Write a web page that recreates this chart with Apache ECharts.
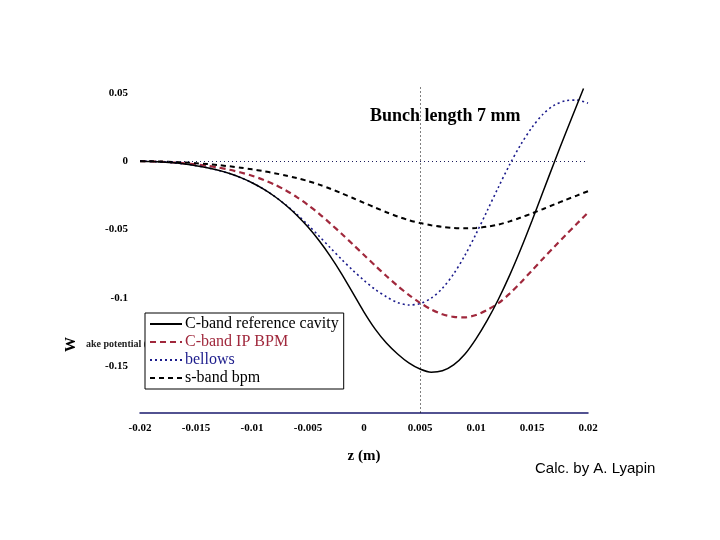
<!DOCTYPE html>
<html>
<head>
<meta charset="utf-8">
<script src="https://cdn.jsdelivr.net/npm/echarts@6/dist/echarts.min.js"></script>
<style>html,body{margin:0;padding:0;background:#fff;}#c{width:720px;height:540px;}</style>
</head>
<body>
<div id="c"></div>
<script>
// ---- data (z in m, wake in V/pC) ----
var seriesNames = ['C-band reference cavity', 'C-band IP BPM', 'bellows', 's-band bpm'];
var xTickValues = [-0.02, -0.015, -0.01, -0.005, 0, 0.005, 0.01, 0.015, 0.02];
var yTickValues = [-0.15, -0.1, -0.05, 0, 0.05];
var bunchMarkerZ = 0.005;

var zSamples = [-0.020, -0.019, -0.018, -0.017, -0.016, -0.015, -0.014, -0.013, -0.012, -0.011,
                -0.010, -0.009, -0.008, -0.007, -0.006, -0.005, -0.004, -0.003, -0.002, -0.001,
                 0.000,  0.001,  0.002,  0.003,  0.004,  0.005,  0.006,  0.007,  0.008,  0.009,
                 0.010,  0.011,  0.012,  0.013,  0.014,  0.015,  0.016,  0.017,  0.018,  0.019, 0.020];

var zCband = [-0.020, -0.019, -0.018, -0.017, -0.016, -0.015, -0.014, -0.013, -0.012, -0.011,
              -0.010, -0.009, -0.008, -0.007, -0.006, -0.005, -0.004, -0.003, -0.002, -0.001,
               0.000,  0.001,  0.002,  0.003,  0.004,  0.005,  0.006,  0.007,  0.008,  0.009,
               0.010,  0.011,  0.012,  0.013,  0.014,  0.015,  0.016,  0.017,  0.018,  0.019, 0.0196];
var wCband = [0, -0.0002, -0.0006, -0.0012, -0.0021, -0.0033, -0.0048, -0.0067, -0.0091, -0.0121,
              -0.0158, -0.0203, -0.0257, -0.0321, -0.0396, -0.0483, -0.0583, -0.0697, -0.0825, -0.0965,
              -0.1105, -0.1230, -0.1332, -0.1412, -0.1477, -0.1522, -0.1545, -0.1535, -0.1492, -0.1414,
              -0.1301, -0.1166, -0.1011, -0.0836, -0.0643, -0.0436, -0.0221, -0.0006, 0.0204, 0.0409, 0.0532];

var wIPBPM = [0, -0.0002, -0.0005, -0.0010, -0.0016, -0.0024, -0.0034, -0.0047, -0.0063, -0.0083,
              -0.0107, -0.0136, -0.0171, -0.0213, -0.0263, -0.0321, -0.0386, -0.0457, -0.0532, -0.0609,
              -0.0687, -0.0765, -0.0841, -0.0913, -0.0979, -0.1037, -0.1085, -0.1121, -0.1140, -0.1144,
              -0.1126, -0.1090, -0.1040, -0.0970, -0.0888, -0.0800, -0.0712, -0.0626, -0.0542, -0.0459, -0.0376];

var wBellows = [0, -0.0002, -0.0006, -0.0012, -0.0021, -0.0033, -0.0048, -0.0067, -0.0091, -0.0121,
                -0.0158, -0.0203, -0.0257, -0.0319, -0.0389, -0.0467, -0.0550, -0.0635, -0.0719, -0.0799,
                -0.0873, -0.0939, -0.0993, -0.1035, -0.1053, -0.1043, -0.1003, -0.0931, -0.0826, -0.0691,
                -0.0533, -0.0363, -0.0191, -0.0026, 0.0122, 0.0247, 0.0345, 0.0410, 0.0442, 0.0447, 0.0424];

var wSband = [0, -0.0001, -0.0003, -0.0006, -0.0010, -0.0015, -0.0021, -0.0029, -0.0038, -0.0048,
              -0.0060, -0.0073, -0.0088, -0.0105, -0.0124, -0.0146, -0.0172, -0.0202, -0.0235, -0.0270,
              -0.0305, -0.0340, -0.0374, -0.0405, -0.0432, -0.0453, -0.0469, -0.0481, -0.0489, -0.0492,
              -0.0489, -0.0480, -0.0464, -0.0441, -0.0413, -0.0382, -0.0350, -0.0317, -0.0284, -0.0252, -0.0220];

function pairs(xs, ys) { return xs.map(function (x, i) { return [x, ys[i]]; }); }

var serif = 'Liberation Serif';
var chart = echarts.init(document.getElementById('c'));
chart.setOption({
  backgroundColor: '#fff',
  animation: false,
  grid: { left: 140, right: 132, top: 86, bottom: 127.5 },
  xAxis: {
    type: 'value', min: -0.02, max: 0.02, interval: 0.005,
    name: 'z (m)', nameLocation: 'middle', nameGap: 36,
    nameTextStyle: { fontFamily: serif, fontWeight: 'bold', fontSize: 15, color: '#000' },
    axisLine: { onZero: false, lineStyle: { color: '#1a1a6e', width: 1.5 } },
    axisTick: { show: false },
    splitLine: { show: false },
    axisLabel: { fontFamily: serif, fontWeight: 'bold', fontSize: 11, color: '#000', margin: 10,
      customValues: xTickValues,
      formatter: function (v) { return String(Math.round(v * 1000) / 1000); } }
  },
  yAxis: {
    type: 'value', min: -0.184, max: 0.055,
    axisLine: { show: false }, axisTick: { show: false }, splitLine: { show: false },
    axisLabel: { fontFamily: serif, fontWeight: 'bold', fontSize: 11, color: '#000', margin: 12,
      customValues: yTickValues,
      formatter: function (v) { return String(Math.round(v * 100) / 100); } }
  },
  legend: {
    orient: 'vertical', left: 145, top: 313,
    itemWidth: 32, itemHeight: 12, itemGap: 2,
    padding: [3, 5, 3, 4],
    backgroundColor: '#fff', borderColor: '#000', borderWidth: 1, borderRadius: 0,
    itemStyle: { opacity: 0 },
    textStyle: { fontFamily: serif, fontSize: 16, color: '#000', padding: [0, 0, 0, -2] },
    data: [
      { name: seriesNames[0] },
      { name: seriesNames[1], textStyle: { color: '#a0283c' } },
      { name: seriesNames[2], textStyle: { color: '#1c1c8c' } },
      { name: seriesNames[3] }
    ]
  },
  graphic: [
    { type: 'text', left: 370, top: 107, style: { text: 'Bunch length 7 mm', font: 'bold 18px "Liberation Serif"', fill: '#000' } },
    { type: 'text', x: 64, y: 352, rotation: Math.PI / 2, style: { text: 'W', font: 'bold 15px "Liberation Serif"', fill: '#000' } },
    { type: 'text', x: 86, y: 339, style: { text: 'ake potential (V/pC)', font: 'bold 10px "Liberation Serif"', fill: '#222' } },
    { type: 'text', left: 535, top: 461, style: { text: 'Calc. by A. Lyapin', font: '15px "Liberation Sans"', fill: '#000' } }
  ],
  series: [
    { name: seriesNames[0], type: 'line', data: pairs(zCband, wCband), smooth: 0.3, symbol: 'none',
      z: 5,
      lineStyle: { color: '#000', width: 1.5, type: 'solid' }, itemStyle: { color: '#000' },
      markLine: { silent: true, symbol: 'none', precision: 6, label: { show: false },
        lineStyle: { type: [1, 3], color: '#000', width: 1 },
        data: [{ yAxis: 0, lineStyle: { color: '#1c1c5c' } }, { xAxis: bunchMarkerZ }] } },
    { name: seriesNames[1], type: 'line', data: pairs(zSamples, wIPBPM), smooth: 0.3, symbol: 'none',
      lineStyle: { color: '#a0283c', width: 2.2, type: [6, 4] }, itemStyle: { color: '#a0283c' } },
    { name: seriesNames[2], type: 'line', data: pairs(zSamples, wBellows), smooth: 0.3, symbol: 'none',
      lineStyle: { color: '#1c1c8c', width: 1.6, type: [2, 3] }, itemStyle: { color: '#1c1c8c' } },
    { name: seriesNames[3], type: 'line', data: pairs(zSamples, wSband), smooth: 0.3, symbol: 'none',
      lineStyle: { color: '#000', width: 2, type: [5, 4] }, itemStyle: { color: '#000' } }
  ]
});
</script>
</body>
</html>
